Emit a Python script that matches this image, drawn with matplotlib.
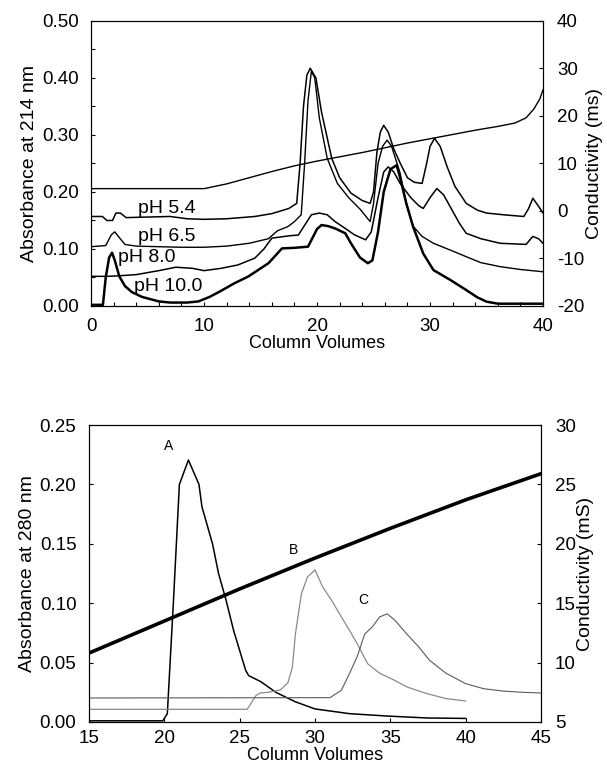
import matplotlib
matplotlib.use("Agg")
import matplotlib.pyplot as plt
from matplotlib.ticker import MultipleLocator

plt.rcParams["font.family"] = ["Liberation Sans", "DejaVu Sans"]
plt.rcParams["axes.unicode_minus"] = False

# ---- top panel: absorbance at 214 nm for four pH runs + conductivity ----
ph54_cv = [0, 1.0, 1.4, 1.9, 2.2, 2.6, 3.1, 5, 7, 8.5, 10, 12, 14.5, 16, 17.5, 18.2, 18.5, 18.8, 19.1,
           19.4, 19.9, 20.4, 21.3, 22, 23, 24, 24.7, 25.0, 25.3, 25.6, 25.9, 26.3, 26.8, 27.35, 28,
           28.6, 29.3, 29.7, 30.0, 30.4, 30.9, 31.5, 32.2, 33.2, 34.2, 35, 36.5, 38.3, 38.7, 39.1,
           39.6, 40]
ph54_abs = [0.157, 0.157, 0.150, 0.150, 0.163, 0.163, 0.155, 0.156, 0.157, 0.153, 0.152, 0.153,
            0.157, 0.162, 0.171, 0.180, 0.250, 0.350, 0.405, 0.417, 0.400, 0.340, 0.259, 0.225,
            0.198, 0.185, 0.180, 0.200, 0.270, 0.305, 0.317, 0.305, 0.275, 0.251, 0.225, 0.217,
            0.215, 0.250, 0.280, 0.294, 0.280, 0.245, 0.210, 0.180, 0.168, 0.163, 0.160, 0.157,
            0.170, 0.189, 0.175, 0.163]

ph65_cv = [0, 1.3, 1.8, 2.1, 2.5, 3.0, 4, 6, 8, 10, 12, 14, 15.7, 16.5, 17.4, 18.0, 18.6, 18.9,
           19.2, 19.5, 19.8, 20.2, 20.9, 21.8, 22.8, 23.8, 24.7, 25.0, 25.4, 25.8, 26.2, 26.6,
           27.35, 27.9, 28.5, 29.3, 30.3, 31.8, 33.2, 34.5, 36.2, 38, 40]
ph65_abs = [0.104, 0.106, 0.125, 0.130, 0.120, 0.108, 0.105, 0.104, 0.103, 0.103, 0.105, 0.110,
            0.118, 0.132, 0.139, 0.148, 0.160, 0.250, 0.360, 0.412, 0.400, 0.330, 0.259, 0.215,
            0.190, 0.170, 0.148, 0.180, 0.250, 0.280, 0.291, 0.280, 0.233, 0.180, 0.140, 0.122,
            0.110, 0.098, 0.0865, 0.076, 0.069, 0.064, 0.060]

ph80_cv = [0, 1.5, 2.5, 4, 6, 7.5, 9, 10, 11.5, 13, 14.5, 15.3, 16, 17.5, 18.35, 19.5, 20.2, 20.9,
           21.6, 22.5, 23.3, 24.3, 24.8, 25.4, 25.9, 26.3, 26.8, 27.35, 28.3, 29.0, 29.4, 30.0,
           30.6, 31.2, 31.9, 32.6, 33.2, 34.5, 36.2, 38.5, 39.1, 39.6, 40]
ph80_abs = [0.052, 0.052, 0.053, 0.055, 0.062, 0.068, 0.066, 0.062, 0.066, 0.072, 0.084, 0.100,
            0.119, 0.123, 0.1245, 0.160, 0.163, 0.160, 0.148, 0.136, 0.125, 0.116, 0.130, 0.190,
            0.235, 0.244, 0.235, 0.215, 0.190, 0.176, 0.171, 0.190, 0.206, 0.195, 0.170, 0.145,
            0.1275, 0.118, 0.110, 0.108, 0.122, 0.118, 0.110]

ph100_cv = [0, 1.05, 1.3, 1.6, 1.86, 2.1, 2.5, 3.0, 3.6, 4.5, 6, 7, 8.5, 9.5, 10.5, 11.5, 12.7,
            13.9, 15.7, 16.9, 18.0, 19.2, 20.0, 20.4, 21.0, 21.6, 22.5, 23.0, 23.8, 24.5, 24.9,
            25.4, 25.9, 26.5, 27.05, 27.35, 27.9, 28.5, 29.4, 30.3, 31.8, 33.2, 34.2, 35.0, 36,
            40]
ph100_abs = [0.002, 0.002, 0.050, 0.085, 0.0935, 0.080, 0.052, 0.035, 0.0245, 0.016, 0.008, 0.006,
             0.006, 0.008, 0.016, 0.0265, 0.040, 0.0515, 0.075, 0.101, 0.102, 0.104, 0.135, 0.142,
             0.140, 0.136, 0.1275, 0.110, 0.085, 0.075, 0.080, 0.130, 0.200, 0.240, 0.247, 0.225,
             0.180, 0.139, 0.092, 0.063, 0.0456, 0.028, 0.015, 0.0076, 0.004, 0.004]

cond1_cv = [0, 10, 12, 14, 16, 18, 20, 22, 24, 26, 28, 30, 32, 34, 36, 37.5, 38.5, 39.2, 39.7, 40]
cond1_ms = [4.7, 4.7, 5.7, 7.0, 8.3, 9.5, 10.5, 11.4, 12.3, 13.3, 14.3, 15.2, 16.1, 17.0, 17.8,
            18.5, 19.6, 21.5, 23.5, 25.5]

ph_labels = ["pH 5.4", "pH 6.5", "pH 8.0", "pH 10.0"]
ph_label_cv = [6.7, 6.7, 4.9, 6.8]
ph_label_abs = [0.171, 0.122, 0.085, 0.034]

# ---- bottom panel: absorbance at 280 nm, peaks A/B/C + conductivity ----
a_cv = [15, 19.9, 20.2, 20.6, 21.0, 21.6, 22.3, 22.5, 23.2, 23.6, 24.1, 24.6, 25.4, 25.6, 26.4,
        27.4, 28.7, 30, 32.3, 34.8, 37.4, 40]
a_abs = [0.001, 0.001, 0.007, 0.100, 0.200, 0.2205, 0.200, 0.181, 0.150, 0.125, 0.1025, 0.077,
         0.0435, 0.039, 0.034, 0.025, 0.017, 0.011, 0.007, 0.005, 0.0034, 0.003]

b_cv = [15, 25.5, 26.1, 26.4, 26.9, 27.7, 28.2, 28.5, 28.7, 29.1, 29.5, 30.0, 30.5, 31.1, 31.75,
        32.3, 32.8, 33.5, 34.3, 35.3, 36.1, 37.4, 38.7, 40]
b_abs = [0.0107, 0.0107, 0.0225, 0.0245, 0.025, 0.027, 0.033, 0.046, 0.074, 0.108, 0.122, 0.128,
         0.114, 0.1025, 0.0885, 0.077, 0.066, 0.049, 0.041, 0.035, 0.0295, 0.024, 0.0197, 0.0177]

c_cv = [15, 31.0, 31.75, 32.3, 32.8, 33.3, 33.8, 34.3, 34.8, 35.3, 36.1, 36.9, 37.6, 38.7, 40,
        41.2, 42.5, 43.8, 45]
c_abs = [0.0202, 0.0205, 0.0267, 0.041, 0.055, 0.074, 0.080, 0.0885, 0.091, 0.0857, 0.074,
         0.063, 0.052, 0.041, 0.0323, 0.028, 0.026, 0.025, 0.0244]

cond2_cv = [15, 20, 25, 30, 35, 40, 45]
cond2_ms = [10.8, 13.5, 16.2, 18.8, 21.3, 23.7, 25.9]

peak_labels = ["A", "B", "C"]
peak_label_cv = [20.3, 28.6, 33.2]
peak_label_abs = [0.232, 0.145, 0.1025]

TICK_FS = 13.5
LABEL_FS = 14
XLABEL_FS = 13

fig = plt.figure(figsize=(6.07, 7.76), dpi=100)

# top
ax1 = fig.add_axes([0.150, 0.6057, 0.7446, 0.3673])
ax1r = ax1.twinx()
ax1r.plot(cond1_cv, cond1_ms, color="black", lw=1.0)
ax1.plot(ph54_cv, ph54_abs, color="black", lw=1.1)
ax1.plot(ph65_cv, ph65_abs, color="black", lw=1.0)
ax1.plot(ph80_cv, ph80_abs, color="black", lw=1.1)
ax1.plot(ph100_cv, ph100_abs, color="black", lw=1.8)
for lab, x, y in zip(ph_labels, ph_label_cv, ph_label_abs):
    ax1.text(x, y, lab, fontsize=14, ha="center", va="center")
ax1.set_xlim(0, 40); ax1.set_ylim(0, 0.5)
ax1r.set_ylim(-20, 40)
ax1.xaxis.set_major_locator(MultipleLocator(10))
ax1.xaxis.set_minor_locator(MultipleLocator(2))
ax1.yaxis.set_major_locator(MultipleLocator(0.1))
ax1.yaxis.set_minor_locator(MultipleLocator(0.05))
ax1.yaxis.set_major_formatter(lambda v, p: f"{v:.2f}")
ax1r.yaxis.set_major_locator(MultipleLocator(10))
ax1.set_xlabel("Column Volumes", fontsize=XLABEL_FS, labelpad=0)
ax1.set_ylabel("Absorbance at 214 nm", fontsize=LABEL_FS, labelpad=3)
ax1r.set_ylabel("Conductivity (ms)", fontsize=LABEL_FS, labelpad=1)

# bottom
ax2 = fig.add_axes([0.1466, 0.0696, 0.7446, 0.3827])
ax2r = ax2.twinx()
ax2r.plot(cond2_cv, cond2_ms, color="black", lw=2.6)
ax2.plot(a_cv, a_abs, color="black", lw=1.1)
ax2.plot(b_cv, b_abs, color="#8a8a8a", lw=0.9)
ax2.plot(c_cv, c_abs, color="#5a5a5a", lw=0.8)
for lab, x, y in zip(peak_labels, peak_label_cv, peak_label_abs):
    ax2.text(x, y, lab, fontsize=10, ha="center", va="center")
ax2.set_xlim(15, 45); ax2.set_ylim(0, 0.25)
ax2r.set_ylim(5, 30)
ax2.xaxis.set_major_locator(MultipleLocator(5))
ax2.yaxis.set_major_locator(MultipleLocator(0.05))
ax2.yaxis.set_major_formatter(lambda v, p: f"{v:.2f}")
ax2r.yaxis.set_major_locator(MultipleLocator(5))
ax2.set_xlabel("Column Volumes", fontsize=XLABEL_FS, labelpad=0)
ax2.set_ylabel("Absorbance at 280 nm", fontsize=LABEL_FS, labelpad=3)
ax2r.set_ylabel("Conductivity (mS)", fontsize=LABEL_FS, labelpad=1)

for ax in (ax1, ax1r, ax2, ax2r):
    ax.tick_params(which="both", direction="in", labelsize=TICK_FS, width=0.8, length=3)
    for s in ax.spines.values():
        s.set_linewidth(0.8)
ax1.tick_params(axis="x", which="both", pad=9)
ax2.tick_params(axis="x", which="both", pad=6)
for ax in (ax1, ax2):
    ax.tick_params(axis="y", which="both", pad=9)
for ax in (ax1r, ax2r):
    ax.tick_params(axis="y", which="both", pad=10)

fig.savefig("out.png", dpi=100)
